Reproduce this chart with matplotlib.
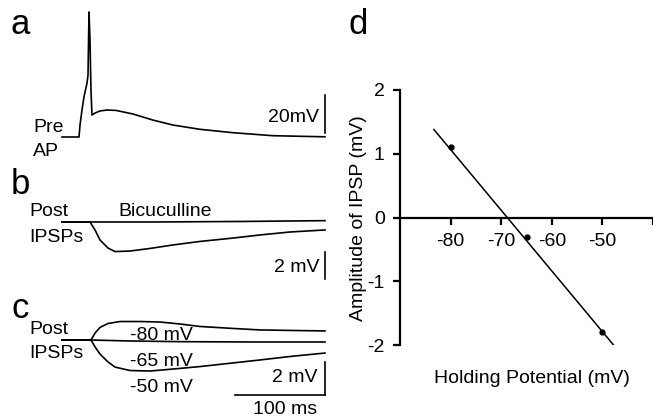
import matplotlib.pyplot as plt

plt.rcParams['font.family'] = ['Liberation Sans', 'DejaVu Sans']
plt.rcParams['axes.unicode_minus'] = False

W, H = 653, 420

# panel a: presynaptic AP (time ms, mV from baseline)
a_t = [0, 18.9, 20, 22.2, 24.4, 27.8, 28.9, 30, 31.1, 32.2, 33.3, 36.7, 42.2, 50, 60,
       78.9, 101.1, 123.3, 153.3, 190, 234.4, 292.2]
a_v = [0, 0, 6.3, 14.2, 21.1, 28.4, 32.6, 65.8, 51.1, 24.7, 11.6, 12.6, 13.7, 14.2, 14.0,
       12.1, 8.9, 6.3, 4.05, 2.26, 0.68, 0.1]

# panel b: postsynaptic IPSP, control and bicuculline
b_t = [0, 31.1, 36.7, 42.2, 51.1, 58.9, 75.6, 97.8, 123.3, 153.3, 190, 220, 253.3, 292.2]
b_ctrl = [0, 0, -0.59, -1.33, -1.93, -2.19, -2.15, -1.96, -1.70, -1.44, -1.19, -0.96, -0.74, -0.59]
bic_t = [0, 100, 200, 292.2]
bic_v = [0, 0.0, 0.04, 0.1]

# panel c: IPSPs at three holding potentials
c80_t = [0, 32.2, 36.7, 42.2, 51.1, 64.4, 86.7, 108.9, 131.1, 153.3, 190, 220, 253.3, 292.2]
c80_v = [0, 0, 0.42, 0.76, 1.0, 1.12, 1.12, 1.09, 0.97, 0.82, 0.70, 0.61, 0.58, 0.55]
c65_t = [0, 32.2, 75.6, 131.1, 208.9, 292.2]
c65_v = [0, 0, -0.06, -0.1, -0.12, -0.12]
c50_t = [0, 32.2, 36.7, 42.2, 51.1, 58.9, 75.6, 97.8, 123.3, 153.3, 190, 220, 253.3, 292.2]
c50_v = [0, 0, -0.42, -0.85, -1.33, -1.64, -1.85, -1.88, -1.76, -1.61, -1.39, -1.21, -1.0, -0.79]
c_names = ['-80 mV', '-65 mV', '-50 mV']

# panel d: IPSP amplitude vs holding potential
hold_mv = [-80, -65, -50]
ipsp_amp = [1.1, -0.3, -1.8]
fit_x = [-83.3, -47.8]
fit_y = [1.38, -2.0]


def rect(x0, y0, x1, y1):
    return [x0 / W, 1 - y1 / H, (x1 - x0) / W, (y1 - y0) / H]


def ftext(x, y, s, **kw):
    fig.text(x / W, 1 - y / H, s, **kw)


fig = plt.figure(figsize=(W / 100, H / 100), dpi=100)
lw = 1.2
xl = (-62 / 0.9, (340 - 62) / 0.9)

axa = fig.add_axes(rect(0, 0, 340, 160))
axa.plot(a_t, a_v, color='k', lw=lw)
axa.plot([292.2, 292.2], [2, 22], color='k', lw=lw)
axa.set_xlim(xl)
axa.set_ylim((137 - 160) / 1.9, 137 / 1.9)
axa.axis('off')

axb = fig.add_axes(rect(0, 160, 340, 290))
axb.plot(b_t, b_ctrl, color='k', lw=lw)
axb.plot(bic_t, bic_v, color='k', lw=lw)
axb.plot([292.2, 292.2], [-2.22, -4.22], color='k', lw=lw)
axb.set_xlim(xl)
axb.set_ylim((222 - 290) / 13.5, (222 - 160) / 13.5)
axb.axis('off')

axc = fig.add_axes(rect(0, 290, 340, 420))
for tt, vv in [(c80_t, c80_v), (c65_t, c65_v), (c50_t, c50_v)]:
    axc.plot(tt, vv, color='k', lw=lw)
axc.plot([292.2, 292.2], [-1.33, -3.33], color='k', lw=lw)
axc.plot([192.2, 292.2], [-3.33, -3.33], color='k', lw=lw)
axc.set_xlim(xl)
axc.set_ylim((340 - 420) / 16.5, (340 - 290) / 16.5)
axc.axis('off')

fs = 14
big = 25
ftext(20, 25, 'a', fontsize=big, ha='center', va='center')
ftext(20, 184, 'b', fontsize=big, ha='center', va='center')
ftext(20, 308, 'c', fontsize=big, ha='center', va='center')
ftext(358, 25, 'd', fontsize=big, ha='center', va='center')

ftext(33, 128, 'Pre', fontsize=fs, va='center')
ftext(33, 152, 'AP', fontsize=fs, va='center')
ftext(319, 118, '20mV', fontsize=fs, ha='right', va='center')

ftext(29, 211, 'Post', fontsize=fs, va='center')
ftext(29, 237, 'IPSPs', fontsize=fs, va='center')
ftext(118, 211, 'Bicuculline', fontsize=fs, va='center')
ftext(319, 267, '2 mV', fontsize=fs, ha='right', va='center')

ftext(29, 330, 'Post', fontsize=fs, va='center')
ftext(29, 353, 'IPSPs', fontsize=fs, va='center')
for y, s in zip([335, 362, 387], c_names):
    ftext(130, y, s, fontsize=fs, va='center')
ftext(318, 378, '2 mV', fontsize=fs, ha='right', va='center')
ftext(285, 410, '100 ms', fontsize=fs, ha='center', va='center')

axd = fig.add_axes(rect(400, 90, 653, 345))
axd.plot(fit_x, fit_y, color='k', lw=1.1)
axd.plot(hold_mv, ipsp_amp, 'o', color='k', ms=3.5)
axd.set_xlim(-90, -40)
axd.set_ylim(-2, 2)
axd.spines[['top', 'right']].set_visible(False)
axd.spines['bottom'].set_position(('data', 0))
axd.spines['left'].set_linewidth(1.6)
axd.spines['bottom'].set_linewidth(1.6)
axd.set_xticks([-80, -70, -60, -50, -40], ['-80', '-70', '-60', '-50', ''])
axd.set_yticks([-2, -1, 0, 1, 2])
axd.tick_params(labelsize=fs, width=1.6, length=5, pad=6)
axd.set_ylabel('Amplitude of IPSP (mV)', fontsize=fs)
axd.yaxis.set_label_coords((367 - 400) / 253, (345 - 218) / 255)
axd.set_xlabel('Holding Potential (mV)', fontsize=fs)
axd.xaxis.set_label_coords((532 - 400) / 253, (345 - 370) / 255)

fig.savefig('out.png', dpi=100)
